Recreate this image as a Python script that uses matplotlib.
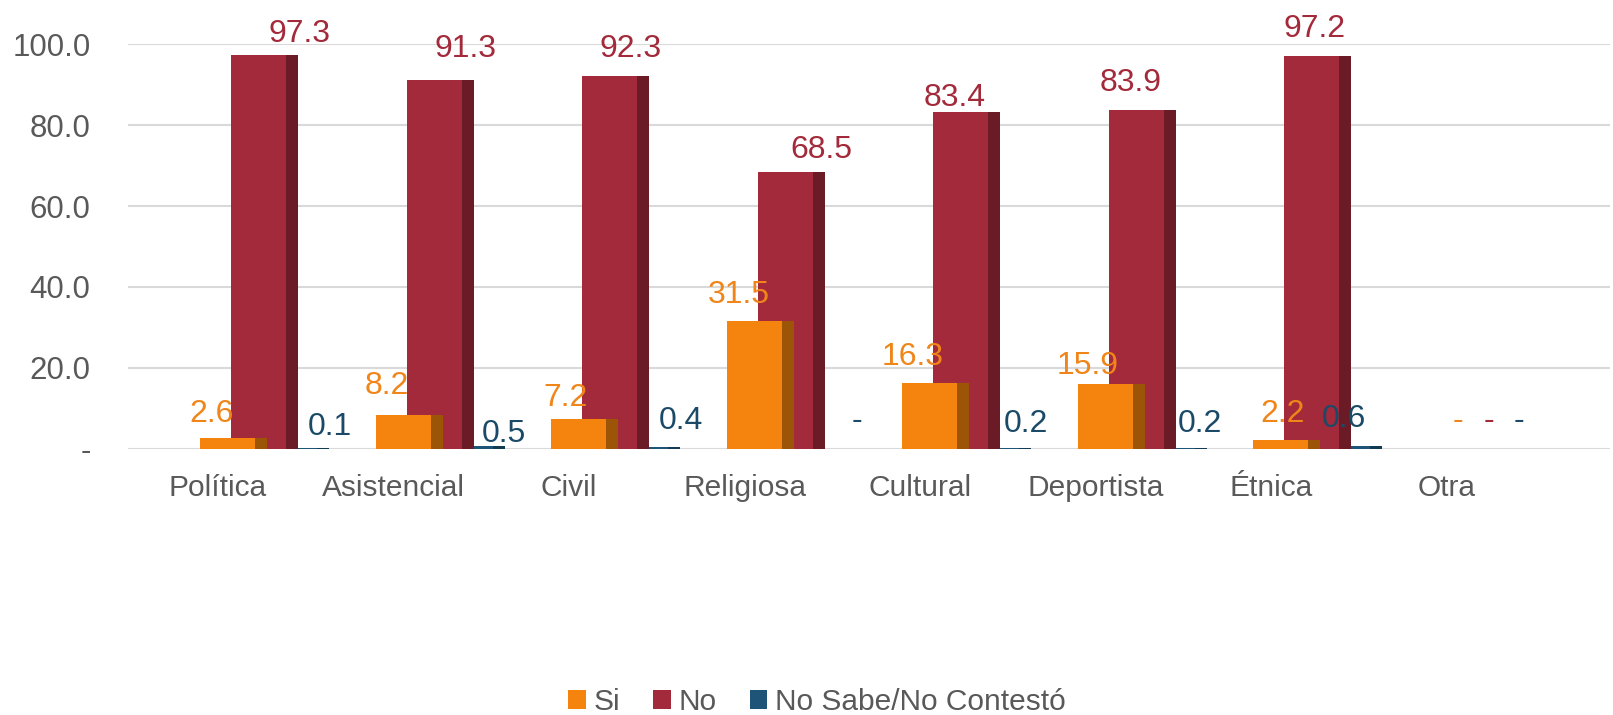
import matplotlib
matplotlib.use("Agg")
import matplotlib.pyplot as plt
from matplotlib.transforms import offset_copy

plt.rcParams["font.family"] = ["Liberation Sans", "DejaVu Sans"]

# ---------- data ----------
categories = ["Política", "Asistencial", "Civil", "Religiosa", "Cultural",
              "Deportista", "Étnica", "Otra"]
si = [2.6, 8.2, 7.2, 31.5, 16.3, 15.9, 2.2, 0.0]
no = [97.3, 91.3, 92.3, 68.5, 83.4, 83.9, 97.2, 0.0]
ns = [0.1, 0.5, 0.4, 0.0, 0.2, 0.2, 0.6, 0.0]
series_names = ["Si", "No", "No Sabe/No Contestó"]
yticks = [0, 20, 40, 60, 80, 100]
ytick_labels = ["-", "20.0", "40.0", "60.0", "80.0", "100.0"]

# ---------- style ----------
front_cols = ["#F5840E", "#A32A3A", "#1D5477"]
side_cols = ["#9C5407", "#6A1B25", "#123A52"]
label_cols = ["#F08519", "#A32A3A", "#1B4A69"]
step_px = 175.5
bar_start_px = [-18, 13, 44]      # front face left edge, relative to category
front_px, side_px = 55, 12
# data label offsets in px (from front-face centre / bar top)
label_dx = [[-16, -16, -13, -15, -17, -17, 2, 2],
            [41, 31, 21, 36, -6, -5, 3, 2],
            [40, 39, 40, 41, 34, 33, 1, 1]]
label_dy = [[24, 29, 21, 26, 26, 18, 26, 27],
            [21, 31, 27, 22, 14, 27, 27, 27],
            [21, 12, 26, 27, 24, 24, 27, 27]]

W, H = 1613, 715
fig = plt.figure(figsize=(W / 100, H / 100), dpi=100)
ax = fig.add_axes([128 / W, (H - 448.5) / H, (1610 - 128) / W, 404 / H])
ax.set_ylim(0, 100)
ax.set_xlim(-90 / step_px, (1610 - 218) / step_px)

x = list(range(len(categories)))
fw, sw = front_px / step_px, side_px / step_px
handles = []
for k, vals in enumerate([si, no, ns]):
    x0 = [xi + bar_start_px[k] / step_px for xi in x]
    z = 10 - 2 * k
    b = ax.bar(x0, vals, width=fw, align="edge", color=front_cols[k], zorder=z,
               label=series_names[k])
    ax.bar([xi + fw for xi in x0], vals, width=sw, align="edge",
           color=side_cols[k], zorder=z)
    handles.append(b)
    for i, v in enumerate(vals):
        tr = offset_copy(ax.transData, fig=fig, x=label_dx[k][i], y=label_dy[k][i],
                         units="dots")
        ax.text(x0[i] + fw / 2, v, "-" if v == 0 else f"{v:.1f}", transform=tr,
                ha="center", va="center", fontsize=23, color=label_cols[k],
                zorder=20, clip_on=False)

ax.set_yticks(yticks)
ax.set_yticklabels(ytick_labels)
ax.set_xticks(x)
ax.set_xticklabels(categories)
ax.tick_params(axis="both", length=0, labelsize=21.5, colors="#595959")
ax.tick_params(axis="y", labelsize=22.5, pad=27)
ax.tick_params(axis="x", pad=18)
ax.grid(axis="y", color="#D9D9D9", lw=1.5, zorder=0)
ax.set_axisbelow(True)
for s in ax.spines.values():
    s.set_visible(False)

fig.legend(handles=handles, loc="center", bbox_to_anchor=(817 / W, 1 - 702 / H),
           ncol=3, frameon=False, fontsize=21.5, labelcolor="#595959",
           handlelength=0.6, handleheight=0.6, handletextpad=0.25,
           columnspacing=1.1)

fig.savefig("out.png", dpi=100)
